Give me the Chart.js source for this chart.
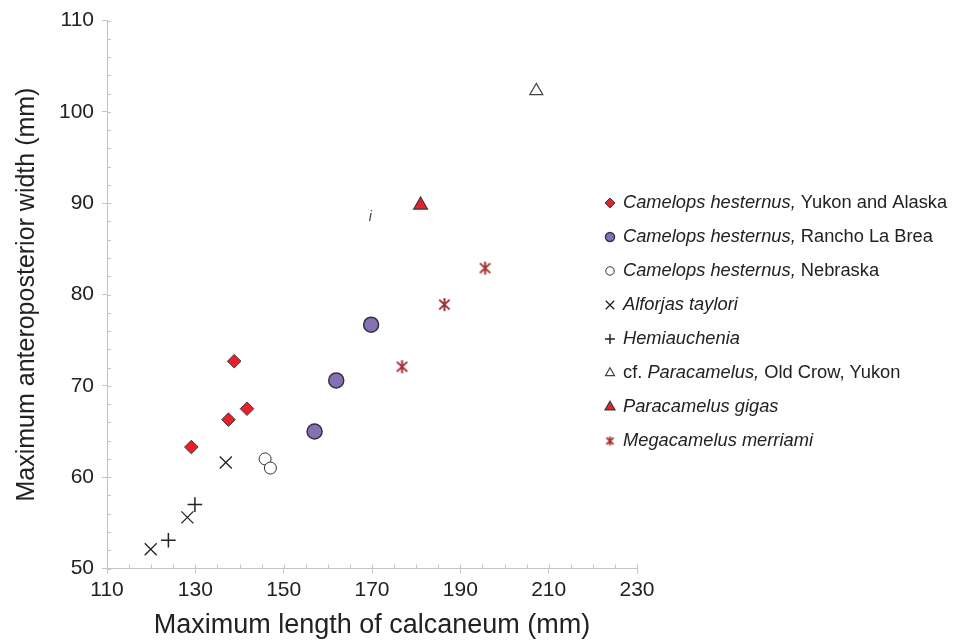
<!DOCTYPE html>
<html>
<head>
<meta charset="utf-8">
<script src="https://cdn.jsdelivr.net/npm/chart.js@4/dist/chart.umd.min.js"></script>
<style>
  html, body { margin: 0; padding: 0; background: #fff; }
  #wrap { width: 960px; height: 643px; }
</style>
</head>
<body>
<div id="wrap"><canvas id="calcChart" width="960" height="643"></canvas></div>
<script>
// Data (length of calcaneum vs anteroposterior width, mm)
const yukonX = [129.1, 137.5, 141.7, 138.8];
const yukonY = [63.3, 66.3, 67.5, 72.7];
const laBreaX = [157.0, 161.9, 169.8];
const laBreaY = [65.0, 70.6, 76.7];
const nebraskaX = [145.8, 147.0];
const nebraskaY = [62.0, 61.0];
const alforjasX = [119.9, 128.2, 136.9];
const alforjasY = [52.1, 55.6, 61.6];
const hemiX = [123.9, 129.9];
const hemiY = [53.1, 57.0];
const oldCrowX = [207.2];
const oldCrowY = [102.3];
const gigasX = [181.0];
const gigasY = [89.8];
const megaX = [176.8, 186.4, 195.6];
const megaY = [72.1, 78.9, 82.9];

const xTicks = [110, 130, 150, 170, 190, 210, 230];
const yTicks = [50, 60, 70, 80, 90, 100, 110];

// legend text, split in italic / upright parts
const legendLabels = [
    [['Camelops hesternus,', true], [' Yukon and Alaska', false]],
    [['Camelops hesternus,', true], [' Rancho La Brea', false]],
    [['Camelops hesternus,', true], [' Nebraska', false]],
    [['Alforjas taylori', true]],
    [['Hemiauchenia', true]],
    [['cf. ', false], ['Paracamelus,', true], [' Old Crow, Yukon', false]],
    [['Paracamelus gigas', true]],
    [['Megacamelus merriami', true]]
];

const FONT = "'Liberation Sans', Arial, Helvetica, sans-serif";

function pts(xs, ys) {
    return xs.map((x, i) => ({ x: x, y: ys[i] }));
}

// asterisk marker: vertical bar plus an x
function makeAsterisk(size, lw, color) {
    const c = document.createElement('canvas');
    c.width = size; c.height = size;
    const g = c.getContext('2d');
    const m = size / 2, r = size / 2 - 1;
    g.strokeStyle = color;
    g.lineWidth = lw;
    g.beginPath();
    g.moveTo(m, m - r); g.lineTo(m, m + r);
    g.moveTo(m - r * 0.8, m - r * 0.75); g.lineTo(m + r * 0.8, m + r * 0.75);
    g.moveTo(m + r * 0.8, m - r * 0.75); g.lineTo(m - r * 0.8, m + r * 0.75);
    g.stroke();
    return c;
}

const starBig = makeAsterisk(15, 2, '#a0302f');
const starSmall = makeAsterisk(11, 1.8, '#a0302f');

const datasets = [
    { data: pts(yukonX, yukonY), pointStyle: 'rectRot', radius: 6.8, backgroundColor: '#e6212b', borderColor: '#3a3a3a', borderWidth: 1, legendRadius: 5 },
    { data: pts(laBreaX, laBreaY), pointStyle: 'circle', radius: 7.5, backgroundColor: '#8570b3', borderColor: '#333344', borderWidth: 1.5, legendRadius: 4.5 },
    { data: pts(nebraskaX, nebraskaY), pointStyle: 'circle', radius: 6, backgroundColor: '#ffffff', borderColor: '#333333', borderWidth: 1, legendRadius: 4.2 },
    { data: pts(alforjasX, alforjasY), pointStyle: 'crossRot', radius: 8.5, backgroundColor: '#222', borderColor: '#222222', borderWidth: 1.3, legendRadius: 6 },
    { data: pts(hemiX, hemiY), pointStyle: 'cross', radius: 7.3, backgroundColor: '#222', borderColor: '#222222', borderWidth: 1.5, legendRadius: 5 },
    { data: pts(oldCrowX, oldCrowY), pointStyle: 'triangle', radius: 7.5, backgroundColor: '#ffffff', borderColor: '#444444', borderWidth: 1.2, legendRadius: 5.2 },
    { data: pts(gigasX, gigasY), pointStyle: 'triangle', radius: 8, backgroundColor: '#e6212b', borderColor: '#3a3a3a', borderWidth: 1.2, legendRadius: 5.8 },
    { data: pts(megaX, megaY), pointStyle: starBig, radius: 7.5, backgroundColor: '#a0302f', borderColor: '#a0302f', borderWidth: 1, legendStyle: starSmall, legendRadius: 5 }
];

// minor ticks, inward major ticks and the custom legend
const decorPlugin = {
    id: 'decor',
    afterDraw(chart) {
        const c = chart.ctx;
        const xs = chart.scales.x, ys = chart.scales.y;
        const area = chart.chartArea;
        c.save();
        c.strokeStyle = '#c4c4c4';
        c.lineWidth = 1;
        c.beginPath();
        for (let v = 110; v <= 230; v += 5) {
            const px = Math.round(xs.getPixelForValue(v)) + 0.5;
            c.moveTo(px, area.bottom);
            c.lineTo(px, area.bottom - 4);
        }
        for (let v = 50; v <= 110; v += 2) {
            const py = Math.round(ys.getPixelForValue(v)) + 0.5;
            c.moveTo(area.left, py);
            c.lineTo(area.left + 4, py);
        }
        c.stroke();

        // stray italic "i" in the original figure
        c.fillStyle = '#444';
        c.font = 'italic 14px ' + FONT;
        c.textAlign = 'center';
        c.textBaseline = 'middle';
        c.fillText('i', xs.getPixelForValue(169.6), ys.getPixelForValue(88.5));

        // legend
        const lx = 610, tx = 623, ly0 = 203, step = 34;
        c.textAlign = 'left';
        legendLabels.forEach((parts, i) => {
            const ds = chart.data.datasets[i];
            const y = ly0 + i * step;
            c.fillStyle = ds.backgroundColor;
            c.strokeStyle = ds.borderColor;
            c.lineWidth = ds.borderWidth;
            Chart.helpers.drawPoint(c, {
                pointStyle: ds.legendStyle || ds.pointStyle,
                radius: ds.legendRadius,
                borderWidth: ds.borderWidth,
                rotation: 0
            }, lx, y);
            let x = tx;
            c.fillStyle = '#222';
            parts.forEach(([txt, it]) => {
                c.font = (it ? 'italic ' : '') + '18.3px ' + FONT;
                c.fillText(txt, x, y);
                x += c.measureText(txt).width;
            });
        });
        c.restore();
    }
};

const ctx = document.getElementById('calcChart').getContext('2d');

new Chart(ctx, {
    type: 'scatter',
    data: {
        datasets: datasets.map(d => ({
            data: d.data,
            pointStyle: d.pointStyle,
            pointRadius: d.radius,
            pointHoverRadius: d.radius,
            backgroundColor: d.backgroundColor,
            borderColor: d.borderColor,
            borderWidth: d.borderWidth,
            legendStyle: d.legendStyle,
            legendRadius: d.legendRadius,
            clip: false
        }))
    },
    options: {
        responsive: false,
        animation: false,
        events: [],
        layout: { padding: { left: 0, top: 18, right: 323, bottom: 0 } },
        plugins: {
            legend: { display: false },
            tooltip: { enabled: false }
        },
        scales: {
            x: {
                type: 'linear',
                min: 110, max: 230,
                afterFit(scale) { scale.height = 74.5; },
                afterBuildTicks(scale) { scale.ticks = xTicks.map(v => ({ value: v })); },
                border: { color: '#c4c4c4', width: 1 },
                grid: { drawOnChartArea: false, drawTicks: true, tickLength: 5, color: '#c4c4c4' },
                ticks: { color: '#222', font: { family: FONT, size: 21 }, padding: 4 },
                title: {
                    display: true,
                    text: 'Maximum length of calcaneum (mm)',
                    color: '#222',
                    font: { family: FONT, size: 27 },
                    padding: { top: 0, bottom: 1 }
                }
            },
            y: {
                type: 'linear',
                min: 50, max: 110,
                afterFit(scale) { scale.width = 107; },
                afterBuildTicks(scale) { scale.ticks = yTicks.map(v => ({ value: v })); },
                border: { color: '#c4c4c4', width: 1 },
                grid: { drawOnChartArea: false, drawTicks: true, tickLength: 5, color: '#c4c4c4' },
                ticks: { color: '#222', font: { family: FONT, size: 21 }, padding: 8 },
                title: {
                    display: true,
                    text: 'Maximum anteroposterior width (mm)',
                    color: '#222',
                    font: { family: FONT, size: 25 },
                    padding: { top: 12, bottom: 0 }
                }
            }
        }
    },
    plugins: [decorPlugin]
});
</script>
</body>
</html>
